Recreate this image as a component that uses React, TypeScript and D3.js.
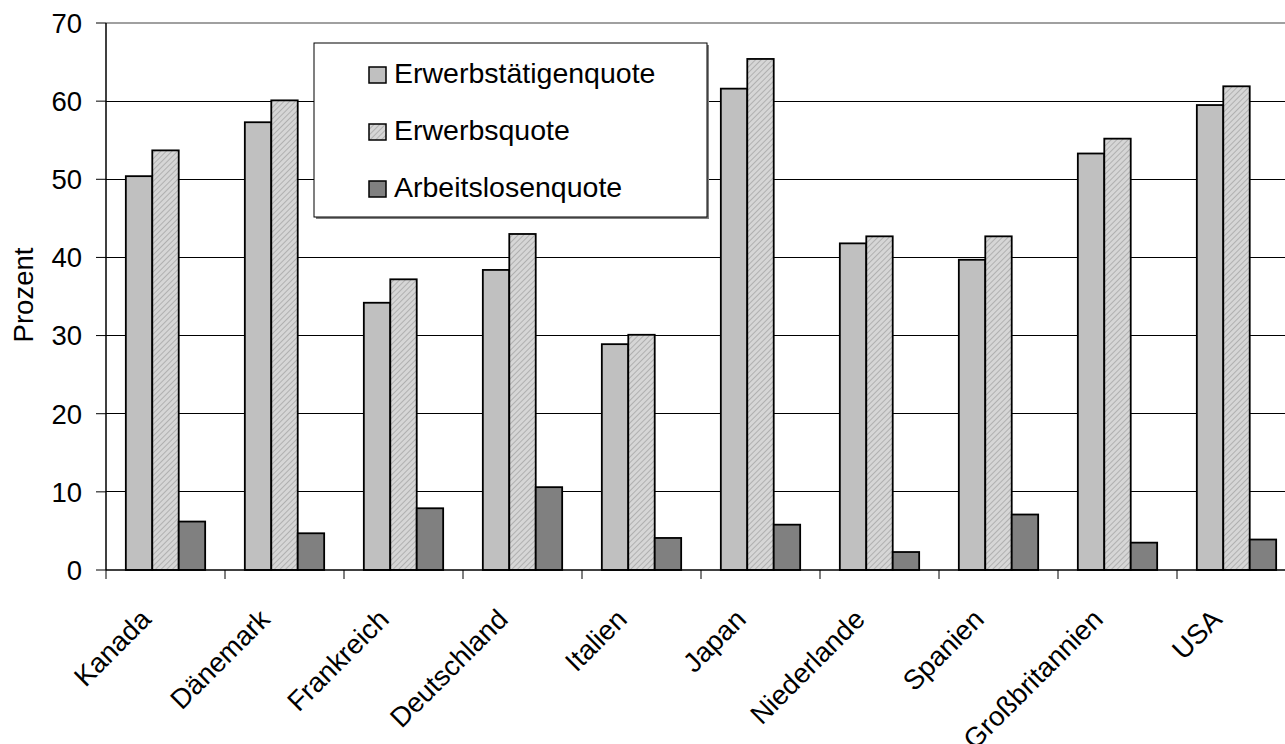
import * as d3 from "d3";

const W = 1285;
const H = 744;

const countries = ["Kanada", "Dänemark", "Frankreich", "Deutschland", "Italien", "Japan", "Niederlande", "Spanien", "Großbritannien", "USA"];
const seriesNames = ["Erwerbstätigenquote", "Erwerbsquote", "Arbeitslosenquote"];
const erwerbstaetigen = [50.4, 57.3, 34.2, 38.4, 28.9, 61.6, 41.8, 39.7, 53.3, 59.5];
const erwerbs = [53.7, 60.1, 37.2, 43.0, 30.1, 65.4, 42.7, 42.7, 55.2, 61.9];
const arbeitslosen = [6.2, 4.7, 7.9, 10.6, 4.1, 5.8, 2.3, 7.1, 3.5, 3.9];
const yTicks = [0, 10, 20, 30, 40, 50, 60, 70];

const FONT = "'Liberation Sans', Arial, sans-serif";
const FS = 28.5;

// plot frame (runs off the right edge, as in the original)
const L = 106;
const R = 1296;
const T = 23;
const B = 570;

export default function App() {
  const x = d3.scaleBand<string>().domain(countries).range([L, R]);
  const sub = d3.scaleBand<string>().domain(seriesNames).range([0, x.bandwidth()]).paddingOuter(0.75);
  const y = d3.scaleLinear().domain([0, 70]).range([B, T]);

  const values = [erwerbstaetigen, erwerbs, arbeitslosen];
  const fills = ["#c0c0c0", "url(#hatch)", "#808080"];

  return (
    <svg width={W} height={H} style={{ position: "absolute", left: 0, top: 0, background: "#fff" }} fontFamily={FONT}>
      <defs>
        <pattern id="hatch" width={4} height={4} patternUnits="userSpaceOnUse" patternTransform="rotate(45)">
          <rect width={4} height={4} fill="#d6d6d6" />
          <line x1={0} y1={0} x2={0} y2={4} stroke="#a6a6a6" strokeWidth={1.6} />
        </pattern>
      </defs>

      {/* gridlines */}
      {yTicks.filter((t) => t > 0 && t < 70).map((t) => (
        <line key={t} x1={L} x2={R} y1={y(t)} y2={y(t)} stroke="#000" strokeWidth={1} shapeRendering="crispEdges" />
      ))}
      <line x1={L} x2={R} y1={y(70)} y2={y(70)} stroke="#808080" strokeWidth={1.5} />

      {/* bars */}
      {countries.map((c, i) =>
        values.map((vals, s) => (
          <rect
            key={c + s}
            x={(x(c) ?? 0) + (sub(seriesNames[s]) ?? 0)}
            y={y(vals[i])}
            width={sub.bandwidth()}
            height={B - y(vals[i])}
            fill={fills[s]}
            stroke="#000"
            strokeWidth={1.8}
          />
        ))
      )}

      {/* axes */}
      <line x1={L} x2={L} y1={T} y2={B} stroke="#000" strokeWidth={1.5} />
      <line x1={L} x2={R} y1={B} y2={B} stroke="#000" strokeWidth={1.5} />
      {yTicks.map((t) => (
        <g key={t}>
          <line x1={L - 10} x2={L} y1={y(t)} y2={y(t)} stroke="#000" strokeWidth={1} />
          <text x={82} y={y(t)} dy="0.36em" textAnchor="end" fontSize={FS - 1}>{t}</text>
        </g>
      ))}
      {countries.map((c) => (
        <line key={c} x1={x(c)} x2={x(c)} y1={B} y2={B + 9} stroke="#000" strokeWidth={1} />
      ))}
      {countries.map((c) => {
        const cx = (x(c) ?? 0) + x.bandwidth() / 2;
        return (
          <text key={c} transform={`translate(${cx - 13},${B + 51}) rotate(-45)`} textAnchor="end" fontSize={FS - 1}>
            {c}
          </text>
        );
      })}

      <text transform={`translate(${33},${295}) rotate(-90)`} textAnchor="middle" fontSize={FS - 1}>Prozent</text>

      {/* legend */}
      <rect x={316} y={45} width={393} height={174} fill="#808080" />
      <rect x={314} y={43} width={393} height={174} fill="#fff" stroke="#000" strokeWidth={1} />
      {seriesNames.map((s, i) => (
        <g key={s}>
          <rect x={369} y={67 + i * 57} width={17} height={16} fill={fills[i]} stroke="#000" strokeWidth={1.5} />
          <text x={394} y={83 + i * 57} fontSize={FS}>{s}</text>
        </g>
      ))}
    </svg>
  );
}
